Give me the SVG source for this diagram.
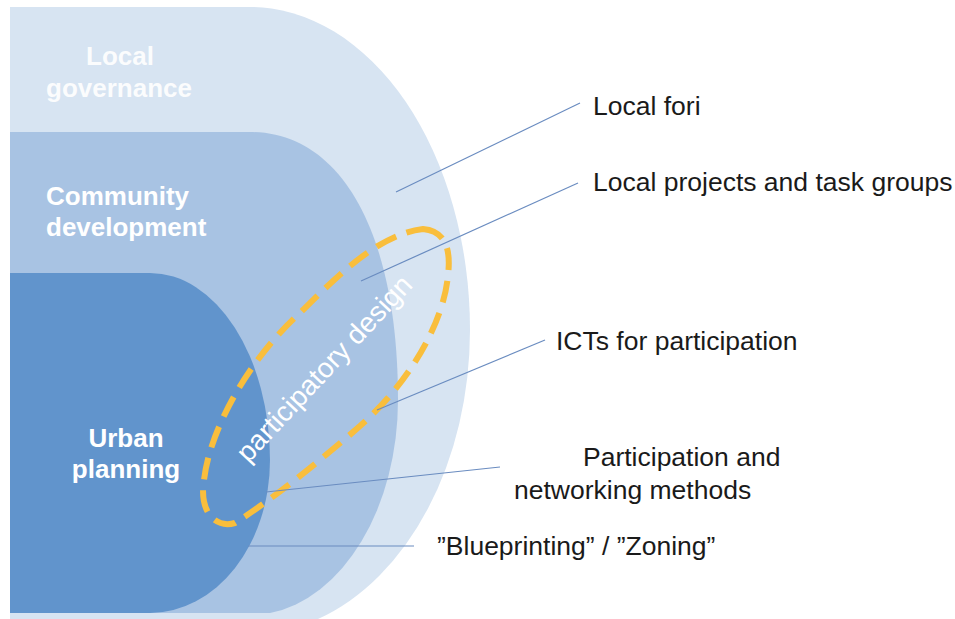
<svg xmlns="http://www.w3.org/2000/svg" width="955" height="619" viewBox="0 0 955 619">
<style>
.lbl{font-family:"Liberation Sans",Arial,sans-serif;font-size:26.5px;fill:#1a1a1a}
.wl{font-family:"Liberation Sans",Arial,sans-serif;font-size:26px;font-weight:bold;fill:#ffffff}
.conn{stroke:#6a8cc0;stroke-width:1.2;fill:none}
</style>
<rect width="955" height="619" fill="#ffffff"/>
<g id="local-governance">
<path d="M10,7 H250 A220,323 0 0 1 470,330 A220,304 0 0 1 318,619 H10 Z" fill="#d7e4f2"/>
<text class="wl" x="120" y="65" text-anchor="middle" opacity="0.9">Local</text>
<text class="wl" x="119" y="97" text-anchor="middle" opacity="0.9">governance</text>
</g>
<g id="community-development">
<path d="M10,132 H250 C342,132 398,234 398,400 A148,215 0 0 1 270,613 H10 Z" fill="#a8c3e3"/>
<text class="wl" x="46" y="205">Community</text>
<text class="wl" x="46" y="236">development</text>
</g>
<g id="urban-planning">
<path d="M10,273 H150 A120,187 0 0 1 270,460 A120,153 0 0 1 150,613 H10 Z" fill="#6194cc"/>
<text class="wl" x="126" y="447" text-anchor="middle">Urban</text>
<text class="wl" x="126" y="478" text-anchor="middle">planning</text>
</g>
<g id="participatory-design">
<path d="M423,229 C446,231 451,250 448,275 C444,322 410,382 360,426 C320,461 270,501 235,523 C214,529 199,510 204,480 C210,428 250,358 300,313 C340,273 380,234 423,229 Z" fill="none" stroke="#f9be3c" stroke-width="6" stroke-dasharray="22 11"/>
<text transform="translate(331,375) rotate(-47)" x="0" y="0" text-anchor="middle" font-family="Liberation Sans, Arial, sans-serif" font-size="28" fill="#ffffff">participatory design</text>
</g>
<g id="connectors">
<line class="conn" x1="396" y1="192" x2="580" y2="103"/>
<line class="conn" x1="361" y1="281" x2="578" y2="183"/>
<line class="conn" x1="377" y1="410" x2="545" y2="340"/>
<line class="conn" x1="266" y1="492" x2="500" y2="467"/>
<line class="conn" x1="248" y1="546" x2="414" y2="546"/>
</g>
<g id="labels">
<text class="lbl" x="593" y="115">Local fori</text>
<text class="lbl" x="593" y="191">Local projects and task groups</text>
<text class="lbl" x="556" y="350">ICTs for participation</text>
<text class="lbl" x="583" y="466">Participation and</text>
<text class="lbl" x="514" y="499">networking methods</text>
<text class="lbl" x="437" y="555">”Blueprinting” / ”Zoning”</text>
</g>
</svg>
